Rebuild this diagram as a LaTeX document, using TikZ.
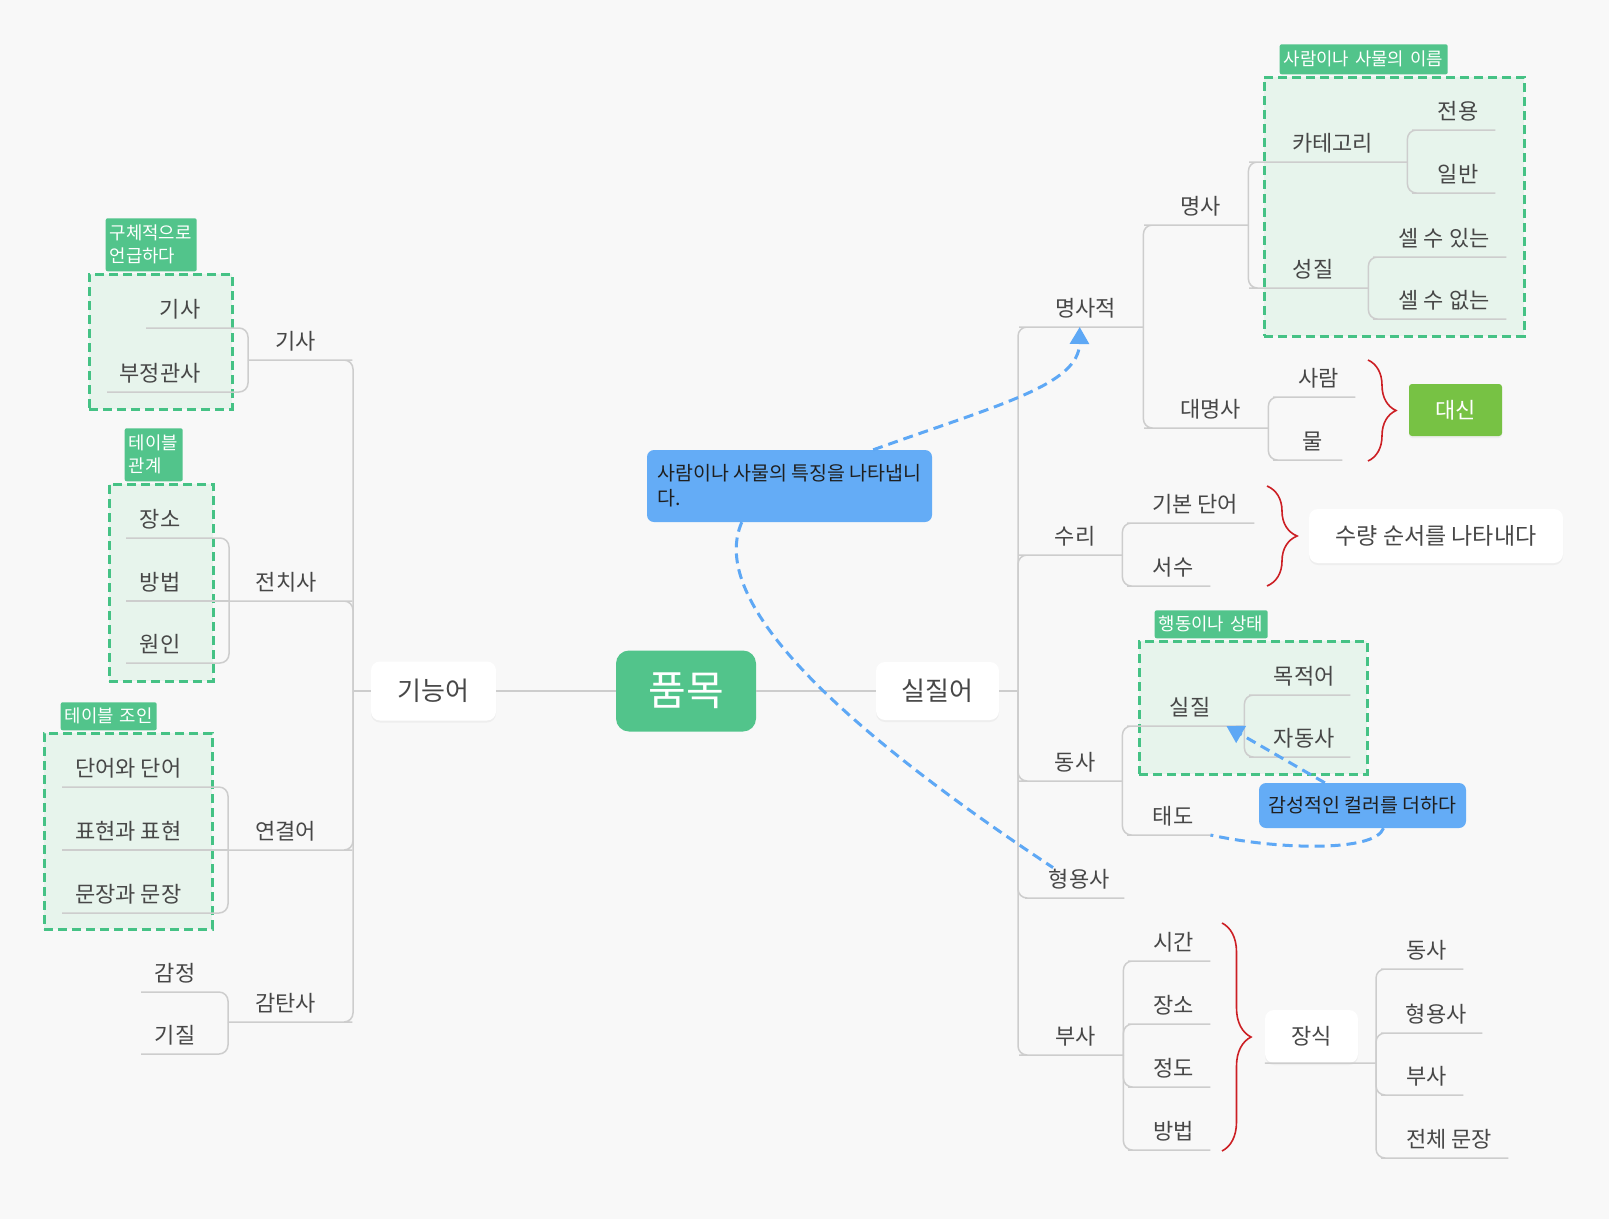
\documentclass[tikz,border=0pt]{standalone}
\usepackage{fontspec}
\setmainfont{Noto Sans CJK KR}
\usepackage{xcolor}
\usetikzlibrary{arrows.meta,positioning,fit,shadows,decorations.pathreplacing}

\definecolor{bgc}{HTML}{F8F8F8}
\definecolor{linec}{HTML}{CDCDCD}
\definecolor{txtc}{HTML}{474747}
\definecolor{mgreen}{HTML}{52C48B}
\definecolor{boxfill}{HTML}{E7F4EC}
\definecolor{boxedge}{HTML}{45C285}
\definecolor{lgreen}{HTML}{77C244}
\definecolor{cblue}{HTML}{64ACF6}
\definecolor{nblue}{HTML}{5EA8F5}
\definecolor{bred}{HTML}{CC1F24}

\tikzset{
  topic/.style={
    inner xsep=0pt,
    inner ysep=0pt,
    minimum height=30pt,
    text height=14pt,
    text depth=4pt,
    text=txtc,
    font=\fontsize{22}{26}\selectfont,
    anchor=south west
  },
  mainbox/.style={fill=white, rounded corners=9pt, text=txtc, inner sep=0pt,
    font=\fontsize{26}{30}\selectfont,
    drop shadow={shadow xshift=0pt, shadow yshift=-2pt, opacity=0.08}},
  rootbox/.style={fill=mgreen, rounded corners=13pt, text=white, inner sep=0pt,
    font=\fontsize{41}{48}\selectfont},
  leafgreen/.style={fill=lgreen, rounded corners=3pt, text=white, inner sep=0pt,
    font=\fontsize{22}{26}\selectfont,
    drop shadow={shadow xshift=0pt, shadow yshift=-2pt, opacity=0.08}},
  groupbox/.style={draw=boxedge, fill=boxfill, line width=3pt,
    dash pattern=on 9pt off 5pt, inner sep=0pt},
  tagbox/.style={fill=mgreen, text=white, rounded corners=2pt, align=left,
    inner xsep=4pt, inner ysep=2pt, font=\fontsize{17.8}{23}\selectfont},
  notebox/.style={fill=cblue, rounded corners=7pt, text=black!88, inner sep=0pt,
    font=\fontsize{19.5}{25}\selectfont},
  link/.style={draw=linec, line width=1.5pt, rounded corners=9pt},
  trunk/.style={draw=linec, line width=2.3pt},
  curly/.style={draw=bred, line width=1.6pt, decorate,
    decoration={brace, amplitude=#1}},
  note/.style={draw=nblue, line width=3pt, dash pattern=on 10pt off 6pt},
  notearrow/.style={note, -{Triangle[width=19pt,length=17pt]}}
}

\begin{document}
\begin{tikzpicture}[x=1pt, y=-1pt]
\path[use as bounding box, fill=bgc] (0,0) rectangle (1609,1219);

% dashed groups and their tags
\node[groupbox, fit={(89,274) (232,409)}] (grpA) {};
\node[groupbox, fit={(109,484) (213,681)}] (grpB) {};
\node[groupbox, fit={(44,733) (212,929)}] (grpC) {};
\node[groupbox, fit={(1264,77) (1524,336)}] (grpD) {};
\node[groupbox, fit={(1139,641) (1367,774)}] (grpE) {};
\node[tagbox, text width=83pt, minimum height=53pt, above right=1pt and 18pt of grpA.north west] (tagA) {구체적으로\\언급하다};
\node[tagbox, text width=50pt, minimum height=53pt, above right=1pt and 17pt of grpB.north west] (tagB) {테이블\\관계};
\node[tagbox, text width=88pt, minimum height=28pt, above right=1pt and 18pt of grpC.north west] (tagC) {테이블 조인};
\node[tagbox, text width=160pt, minimum height=30pt, above right=1pt and 17pt of grpD.north west] (tagD) {사람이나 사물의 이름};
\node[tagbox, text width=105pt, minimum height=28pt, above right=1pt and 17pt of grpE.north west] (tagE) {행동이나 상태};

% centre
\node[mainbox, minimum width=125pt, minimum height=59pt] (gineung) at (433.5,691) {기능어};
\node[rootbox, minimum width=140pt, minimum height=81pt] (pummok) at (686,691) {품목};
\node[mainbox, minimum width=123pt, minimum height=58pt] (siljileo) at (937.5,691) {실질어};
\coordinate (trunkL) at (353,691);
\coordinate (trunkR) at (1018,691);

% left side
\node[topic, minimum width=95pt] (gisa) at (248,360) {기사};
\node[topic, minimum width=68pt] (gisaA) at (146,328) {기사};
\node[topic, minimum width=106pt] (bujeong) at (107,392) {부정관사};
\node[topic, minimum width=114pt] (jeonchi) at (229,601) {전치사};
\node[topic, minimum width=68pt] (jangso) at (126,538) {장소};
\node[topic, minimum width=68pt] (bangbeop) at (126,601) {방법};
\node[topic, minimum width=68pt] (wonin) at (126,663) {원인};
\node[topic, minimum width=115pt] (yeongyeol) at (228,850) {연결어};
\node[topic, minimum width=132pt] (daneo) at (62,787) {단어와 단어};
\node[topic, minimum width=132pt] (pyohyeon) at (62,850) {표현과 표현};
\node[topic, minimum width=132pt] (munjang) at (62,913) {문장과 문장};
\node[topic, minimum width=115pt] (gamtan) at (228,1022) {감탄사};
\node[topic, minimum width=68pt] (gamjeong) at (141,992) {감정};
\node[topic, minimum width=68pt] (gijil) at (141,1054) {기질};

% right side
\node[topic, minimum width=115pt] (myeongsajeok) at (1028,327) {명사적};
\node[topic, minimum width=95pt] (myeongsa) at (1153,225) {명사};
\node[topic, minimum width=149pt] (kategori) at (1258,162) {카테고리};
\node[topic, minimum width=74pt] (jeonyong) at (1421,130) {전용};
\node[topic, minimum width=74pt] (ilban) at (1421,193) {일반};
\node[topic, minimum width=110pt] (seongjil) at (1258,288) {성질};
\node[topic, minimum width=124pt] (selsu) at (1382,257) {셀 수 있는};
\node[topic, minimum width=124pt] (selsuX) at (1382,319) {셀 수 없는};
\node[topic, minimum width=115pt] (daemyeong) at (1153,428) {대명사};
\node[topic, minimum width=73pt] (saram) at (1282,397) {사람};
\node[topic, minimum width=60pt] (mul) at (1282,460) {물};
\node[leafgreen, minimum width=93pt, minimum height=52pt] (daesin) at (1455.5,410) {대신};
\node[topic, minimum width=94pt] (suri) at (1028,555) {수리};
\node[topic, minimum width=118pt] (gibon) at (1136,523) {기본 단어};
\node[topic, minimum width=74pt] (seosu) at (1136,586) {서수};
\node[mainbox, font=\fontsize{23}{27}\selectfont, minimum width=254pt, minimum height=54pt] (suryang) at (1436,536) {수량 순서를 나타내다};
\node[topic, minimum width=94pt] (dongsa) at (1028,781) {동사};
\node[topic, minimum width=108pt] (siljil) at (1136,726) {실질};
\node[topic, minimum width=92pt] (mokjeok) at (1258,695) {목적어};
\node[topic, minimum width=92pt] (jadong) at (1258,757) {자동사};
\node[topic, minimum width=74pt] (taedo) at (1136,835) {태도};
\node[topic, minimum width=90pt] (hyeongyong) at (1034,898) {형용사};
\node[topic, minimum width=95pt] (busa) at (1028,1055) {부사};
\node[topic, minimum width=73pt] (sigan) at (1137,961) {시간};
\node[topic, minimum width=73pt] (jangsoR) at (1137,1024) {장소};
\node[topic, minimum width=73pt] (jeongdo) at (1137,1087) {정도};
\node[topic, minimum width=73pt] (bangbeopR) at (1137,1150) {방법};
\node[mainbox, font=\fontsize{22}{26}\selectfont, minimum width=93pt, minimum height=53pt] (jangsik) at (1311.5,1036.5) {장식};
\coordinate (jangsikB) at (1376,1063);
\node[topic, minimum width=73pt] (dsDong) at (1390,969) {동사};
\node[topic, minimum width=92pt] (dsHyeong) at (1390,1033) {형용사};
\node[topic, minimum width=73pt] (dsBusa) at (1390,1095) {부사};
\node[topic, minimum width=118pt] (dsJeonche) at (1390,1158) {전체 문장};

% notes
\node[notebox, minimum width=285pt, minimum height=72pt, align=left] (noteA) at (789.5,486) {사람이나 사물의 특징을 나타냅니\\다.};
\node[notebox, minimum width=207pt, minimum height=45pt] (noteB) at (1362.5,805.5) {감성적인 컬러를 더하다};

% connectors
\draw[trunk] (gineung) -- (pummok);
\draw[trunk] (pummok) -- (siljileo);
\draw[link] (gineung.west) -- (trunkL);
\draw[link] (siljileo.east) -- (trunkR);

\foreach \kid in {gisa,jeonchi,yeongyeol,gamtan}
  \draw[link] (trunkL) |- (\kid.south east) -- (\kid.south west);
\foreach \kid in {gisaA,bujeong}
  \draw[link] (gisa.south west) |- (\kid.south east) -- (\kid.south west);
\foreach \kid in {jangso,wonin}
  \draw[link] (jeonchi.south west) |- (\kid.south east) -- (\kid.south west);
\draw[link] (jeonchi.south west) -- (bangbeop.south west);
\foreach \kid in {daneo,munjang}
  \draw[link] (yeongyeol.south west) |- (\kid.south east) -- (\kid.south west);
\draw[link] (yeongyeol.south west) -- (pyohyeon.south west);
\foreach \kid in {gamjeong,gijil}
  \draw[link] (gamtan.south west) |- (\kid.south east) -- (\kid.south west);

\foreach \kid in {myeongsajeok,suri,dongsa,hyeongyong,busa}
  \draw[link] (trunkR) |- (\kid.south west) -- (\kid.south east);
\foreach \kid in {myeongsa,daemyeong}
  \draw[link] (myeongsajeok.south east) |- (\kid.south west) -- (\kid.south east);
\foreach \kid in {kategori,seongjil}
  \draw[link] (myeongsa.south east) |- (\kid.south west) -- (\kid.south east);
\foreach \kid in {jeonyong,ilban}
  \draw[link] (kategori.south east) |- (\kid.south west) -- (\kid.south east);
\foreach \kid in {selsu,selsuX}
  \draw[link] (seongjil.south east) |- (\kid.south west) -- (\kid.south east);
\foreach \kid in {saram,mul}
  \draw[link] (daemyeong.south east) |- (\kid.south west) -- (\kid.south east);
\foreach \kid in {gibon,seosu}
  \draw[link] (suri.south east) |- (\kid.south west) -- (\kid.south east);
\foreach \kid in {siljil,taedo}
  \draw[link] (dongsa.south east) |- (\kid.south west) -- (\kid.south east);
\foreach \kid in {mokjeok,jadong}
  \draw[link] (siljil.south east) |- (\kid.south west) -- (\kid.south east);
\foreach \kid in {sigan,jangsoR,jeongdo,bangbeopR}
  \draw[link] (busa.south east) |- (\kid.south west) -- (\kid.south east);
\draw[link] (jangsik.south west) -- (jangsikB);
\foreach \kid in {dsDong,dsHyeong,dsBusa,dsJeonche}
  \draw[link] (jangsikB) |- (\kid.south west) -- (\kid.south east);

% braces
\draw[curly=28pt] (1368,360) -- (1368,461);
\draw[curly=30pt] (1267,486) -- (1267,586);
\draw[curly=29pt] (1222,923) -- (1222,1151);

% dashed relations
\draw[notearrow] ([xshift=-59pt]noteA.north east) .. controls (998,405) and (1079,385) .. ([xshift=-6pt]myeongsajeok.south);
\draw[note] ([xshift=95pt]noteA.south west) .. controls (712,590) and (800,700) .. ([xshift=19pt]hyeongyong.north west);
\draw[notearrow] ([xshift=66pt]noteB.north west) -- ([xshift=-18pt]siljil.south east);
\draw[note] ([xshift=21pt]noteB.south) .. controls (1375,852) and (1280,850) .. (taedo.south east);
\end{tikzpicture}
\end{document}
